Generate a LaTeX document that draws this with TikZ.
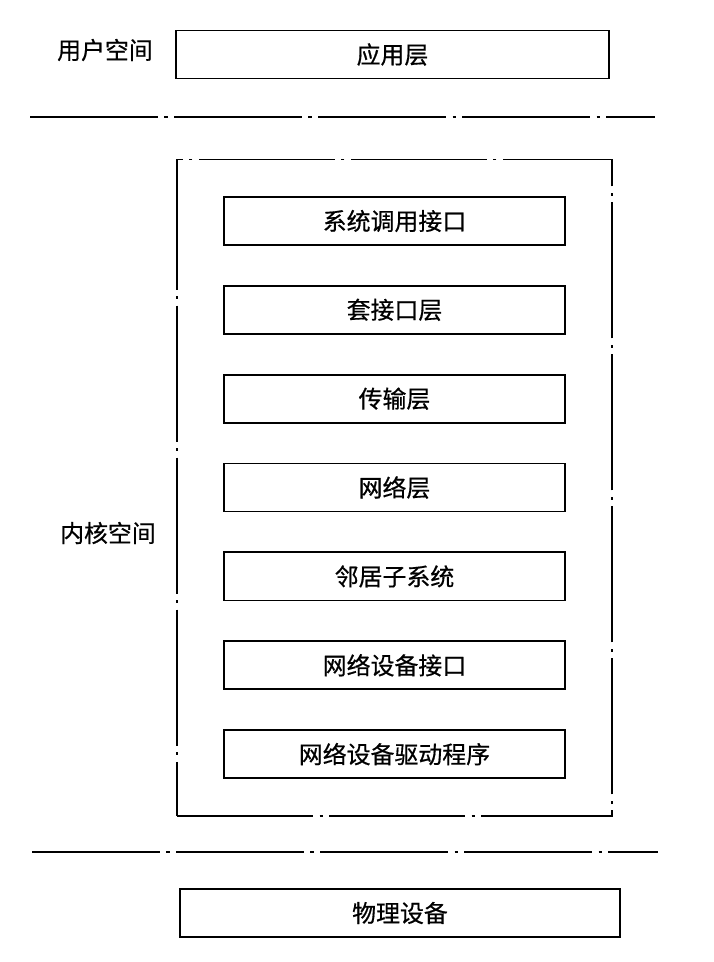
\documentclass[tikz,border=0pt]{standalone}
\usepackage{fontspec}
\newfontfamily\cjk[FakeBold=0.6]{Noto Sans CJK SC}
\usetikzlibrary{positioning, fit}

\begin{document}
\begin{tikzpicture}[
        x=0.025cm, y=-0.025cm,
        node distance=0.975cm,
        every node/.style={font=\cjk\fontsize{17}{20}\selectfont},
        layer/.style={draw, line width=1.3pt, minimum width=8.52cm, minimum height=1.2cm},
        wide/.style={layer, minimum width=#1},
        space/.style={inner sep=0pt},
        sep/.style={line width=1pt, dash pattern=on 3.2cm off 0.16cm on 0.08cm off 0.16cm},
        kernel/.style={draw, line width=1pt, dash pattern=on 3.4cm off 0.16cm on 0.08cm off 0.16cm, inner xsep=1.15cm, inner ysep=0.92cm}
    ]
        \useasboundingbox (0,0) rectangle (714,962);

        % User space
        \node[wide=10.83cm] (app) at (392.5,54.5) {应用层};
        \node[space] (user) at (105,50) {用户空间};
        \coordinate (s1l) at (30,117);
        \coordinate (s1r) at (655,117);
        \draw[sep] (s1l) -- (s1r);

        % Kernel layers
        \node[layer] (syscall) at (394.5,221) {系统调用接口};
        \node[layer, below=of syscall] (sock) {套接口层};
        \node[layer, below=of sock] (trans) {传输层};
        \node[layer, below=of trans] (net) {网络层};
        \node[layer, below=of net] (neigh) {邻居子系统};
        \node[layer, below=of neigh] (devif) {网络设备接口};
        \node[layer, below=of devif] (driver) {网络设备驱动程序};
        \node[kernel, fit=(syscall) (driver)] (kbox) {};
        \node[space] (kspace) at (108,533) {内核空间};

        % Hardware
        \coordinate (s2l) at (32,852);
        \coordinate (s2r) at (658,852);
        \draw[sep] (s2l) -- (s2r);
        \node[wide=11cm] (phys) at (400,913) {物理设备};

    \end{tikzpicture}
\end{document}
